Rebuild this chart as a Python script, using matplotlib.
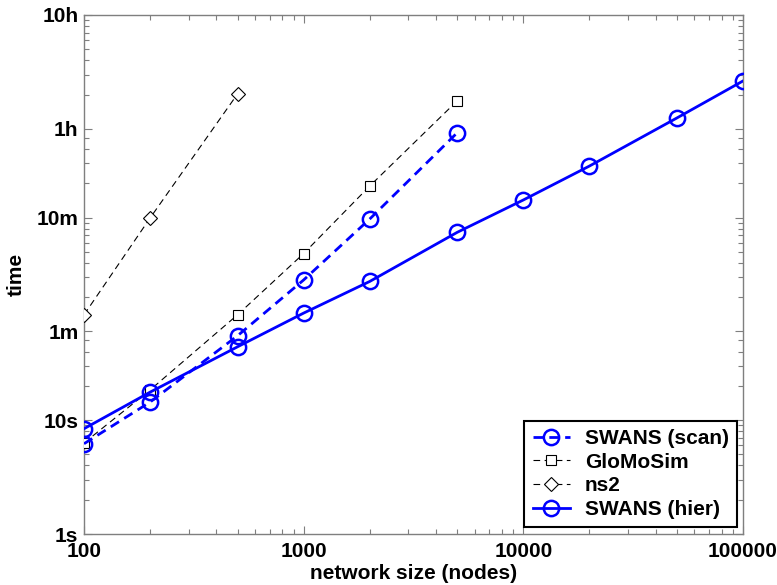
import matplotlib
matplotlib.use("Agg")
import matplotlib.pyplot as plt
from matplotlib.ticker import FixedLocator, NullFormatter, LogLocator

plt.rcParams['font.family'] = ['Liberation Sans', 'DejaVu Sans']
plt.rcParams['font.weight'] = 'bold'

# ---- data (time in seconds) ----
nodes_hier = [100, 200, 500, 1000, 2000, 5000, 10000, 20000, 50000, 100000]
swans_hier = [8.4, 17.6, 44, 87, 165, 445, 856, 1700, 4490, 9490]

nodes_scan = [100, 200, 500, 1000, 2000, 5000]
swans_scan = [6.2, 14.4, 55, 170, 583, 3330]

nodes_glomo = [100, 200, 500, 1000, 2000, 5000]
glomosim = [6.3, 18.4, 84, 290, 1136, 6350]

nodes_ns2 = [100, 200, 500]
ns2 = [84, 595, 7300]

x_ticks = [100, 1000, 10000, 100000]
x_ticklabels = ['100', '1000', '10000', '100000']
y_ticks = [1, 10, 60, 600, 3600, 36000]
y_ticklabels = ['1s', '10s', '1m', '10m', '1h', '10h']

fig = plt.figure(figsize=(7.77, 5.85), dpi=100)
ax = fig.add_axes([84/777, 1-534/585, (743-84)/777, (534-15)/585])

blue = '#0000FF'
l_scan, = ax.plot(nodes_scan, swans_scan, color=blue, lw=2.0, ls=(0, (3.5, 2.2)),
                  marker='o', ms=11, mfc='none', mec=blue, mew=1.8, zorder=4)
l_glomo, = ax.plot(nodes_glomo, glomosim, color='black', lw=0.8, ls=(0, (6, 4)),
                   marker='s', ms=7.5, mfc='white', mec='black', mew=0.8, zorder=3)
l_ns2, = ax.plot(nodes_ns2, ns2, color='black', lw=0.8, ls=(0, (6, 4)),
                 marker='D', ms=7, mfc='white', mec='black', mew=0.8, zorder=3)
l_hier, = ax.plot(nodes_hier, swans_hier, color=blue, lw=2.0, ls='-',
                  marker='o', ms=11, mfc='none', mec=blue, mew=1.8, zorder=5)

ax.set_xscale('log')
ax.set_yscale('log')
ax.set_xlim(100, 100000)
ax.set_ylim(1, 36000)

ax.set_xticks(x_ticks)
ax.set_xticklabels(x_ticklabels)
ax.xaxis.set_minor_locator(LogLocator(base=10, subs=range(2, 10)))
ax.xaxis.set_minor_formatter(NullFormatter())

ax.set_yticks(y_ticks)
ax.set_yticklabels(y_ticklabels)
minor_y = ([s for s in range(2, 10)] + [20, 30, 40, 50] +
           [60 * m for m in range(2, 10)] + [60 * m for m in (20, 30, 40, 50)] +
           [3600 * h for h in range(2, 10)])
ax.yaxis.set_minor_locator(FixedLocator(minor_y))
ax.yaxis.set_minor_formatter(NullFormatter())

gray = '#7f7f7f'
for sp in ax.spines.values():
    sp.set_color(gray)
    sp.set_linewidth(1.0)
ax.tick_params(which='both', direction='in', top=True, right=True, color=gray,
               labelsize=15, labelcolor='black')
ax.tick_params(which='major', length=6, width=0.8)
ax.tick_params(axis='x', which='major', pad=6)
ax.tick_params(axis='y', which='major', pad=4)
ax.tick_params(which='minor', length=3.5, width=0.8)
for lab in ax.get_xticklabels() + ax.get_yticklabels():
    lab.set_fontweight('bold')

ax.set_xlabel('network size (nodes)', fontsize=15, fontweight='bold', labelpad=2)
ax.set_ylabel('time', fontsize=15, fontweight='bold', labelpad=8)

leg = ax.legend([l_scan, l_glomo, l_ns2, l_hier],
                ['SWANS (scan)', 'GloMoSim', 'ns2', 'SWANS (hier)'],
                loc='lower right', bbox_to_anchor=(0.991, 0.013),
                fancybox=False, framealpha=1, edgecolor='black',
                prop={'size': 15, 'weight': 'bold'},
                handlelength=1.8, handletextpad=0.7, labelspacing=0.22,
                borderpad=0.4, borderaxespad=0)
leg.get_frame().set_linewidth(1.5)

fig.savefig('out.png', dpi=100)
